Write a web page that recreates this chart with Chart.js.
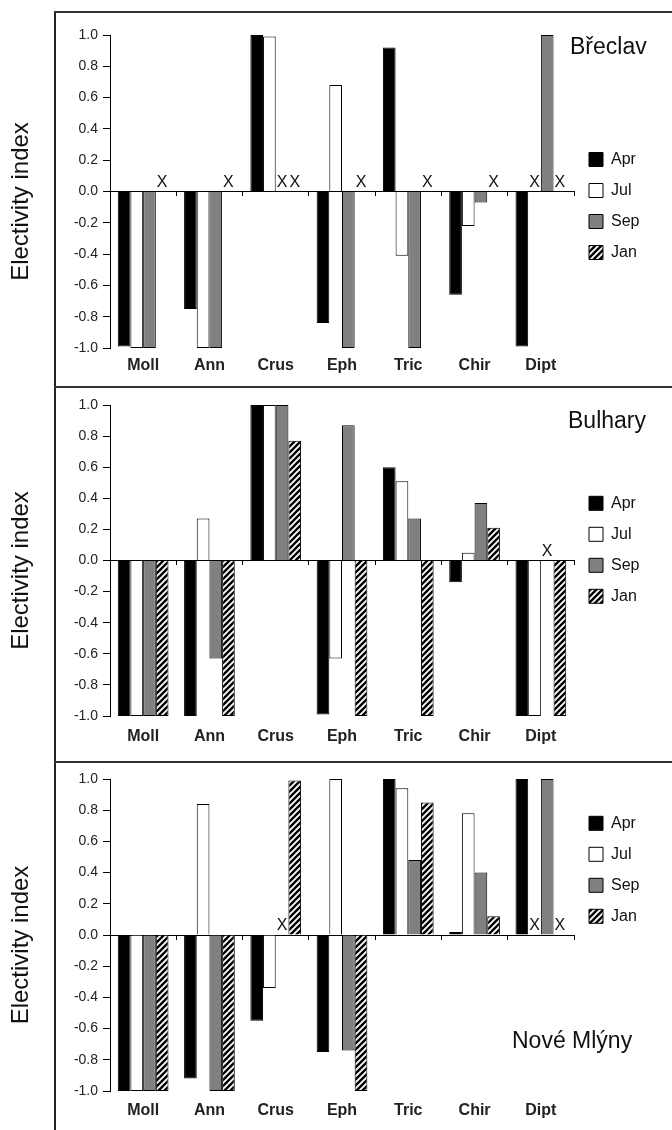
<!DOCTYPE html>
<html>
<head>
<meta charset="utf-8">
<script src="https://cdn.jsdelivr.net/npm/chart.js@4.4.1/dist/chart.umd.min.js"></script>
<style>
  html, body { margin: 0; padding: 0; background: #fff; }
  #page { position: relative; width: 672px; height: 1130px; overflow: hidden; font-family: 'Liberation Sans', Arial, sans-serif; }
  canvas { position: absolute; left: 0; }
  .hline { position: absolute; left: 54px; right: 0; height: 2px; background: #333; }
  .vline { position: absolute; left: 54px; top: 11px; bottom: 0; width: 1.5px; background: #222; }
  .site { position: absolute; font-size: 23px; line-height: 23px; color: #111; white-space: nowrap; }
</style>
</head>
<body>
<div id="page">
  <div class="vline"></div>
  <div class="hline" style="top:11px"></div>
  <div class="hline" style="top:386px"></div>
  <div class="hline" style="top:761px"></div>
  <canvas id="c1" width="672" height="373" style="top:13px"></canvas>
  <canvas id="c2" width="672" height="373" style="top:388px"></canvas>
  <canvas id="c3" width="672" height="367" style="top:763px"></canvas>
  <div class="site" style="left:570px; top:35px">Břeclav</div>
  <div class="site" style="left:568px; top:409px">Bulhary</div>
  <div class="site" style="left:512px; top:1029px">Nové Mlýny</div>
</div>
<script>
const categories = ['Moll', 'Ann', 'Crus', 'Eph', 'Tric', 'Chir', 'Dipt'];
const months = ['Apr', 'Jul', 'Sep', 'Jan'];
const yTicks = [-1.0, -0.8, -0.6, -0.4, -0.2, 0.0, 0.2, 0.4, 0.6, 0.8, 1.0];

const breclavApr = [-0.99, -0.75, 1.0, -0.84, 0.92, -0.66, -0.99];
const breclavJul = [-1.0, -1.0, 0.99, 0.68, -0.41, -0.22, null];
const breclavSep = [-1.0, -1.0, null, -1.0, -1.0, -0.07, 1.0];
const breclavJan = [null, null, null, null, null, null, null];

const bulharyApr = [-1.0, -1.0, 1.0, -0.99, 0.6, -0.14, -1.0];
const bulharyJul = [-1.0, 0.27, 1.0, -0.63, 0.51, 0.05, -1.0];
const bulharySep = [-1.0, -0.63, 1.0, 0.87, 0.27, 0.37, null];
const bulharyJan = [-1.0, -1.0, 0.77, -1.0, -1.0, 0.21, -1.0];

const mlynyApr = [-1.0, -0.92, -0.55, -0.75, 1.0, 0.02, 1.0];
const mlynyJul = [-1.0, 0.84, -0.34, 1.0, 0.94, 0.78, null];
const mlynySep = [-1.0, -1.0, null, -0.74, 0.48, 0.40, 1.0];
const mlynyJan = [-1.0, -1.0, 0.99, -1.0, 0.85, 0.12, null];

const FONT = "'Liberation Sans', Arial, sans-serif";
const PLOT_RIGHT = 574;
Chart.defaults.font.family = FONT;
Chart.defaults.color = '#111';

function makeHatch(ctx) {
    const tile = document.createElement('canvas');
    tile.width = 6; tile.height = 6;
    const g = tile.getContext('2d');
    g.fillStyle = '#fff';
    g.fillRect(0, 0, 6, 6);
    g.strokeStyle = '#000';
    g.lineWidth = 2.4;
    g.beginPath();
    g.moveTo(-1, 7); g.lineTo(7, -1);
    g.moveTo(-1, 1); g.lineTo(1, -1);
    g.moveTo(5, 7); g.lineTo(7, 5);
    g.stroke();
    return ctx.createPattern(tile, 'repeat');
}

// X on the zero line where a month has no value
const missingMarks = {
    id: 'missingMarks',
    afterDatasetsDraw(chart) {
        const ctx = chart.ctx;
        const zeroY = chart.scales.y.getPixelForValue(0);
        ctx.save();
        ctx.font = '16px ' + FONT;
        ctx.fillStyle = '#111';
        ctx.textAlign = 'center';
        ctx.textBaseline = 'alphabetic';
        chart.data.datasets.forEach((ds, d) => {
            const meta = chart.getDatasetMeta(d);
            ds.data.forEach((v, i) => {
                if (v === null) ctx.fillText('X', meta.data[i].x, zeroY - 5);
            });
        });
        ctx.restore();
    }
};

function buildPanel(id, apr, jul, sep, jan, p) {
    const ctx = document.getElementById(id).getContext('2d');
    const fills = ['#000', '#fff', '#808080', makeHatch(ctx)];
    const series = [apr, jul, sep, jan];
    const chart = new Chart(ctx, {
        type: 'bar',
        data: {
            labels: categories,
            datasets: months.map((m, k) => ({
                label: m,
                data: series[k],
                backgroundColor: fills[k],
                borderColor: '#000',
                borderWidth: 1,
                categoryPercentage: 0.765,
                barPercentage: 1.0
            }))
        },
        options: {
            responsive: false,
            animation: false,
            layout: { padding: { top: p.top, right: 20, left: 0, bottom: 0 } },
            plugins: {
                tooltip: { enabled: false },
                legend: {
                    position: 'right',
                    align: 'start',
                    fullSize: false,
                    title: { display: true, text: '', font: { size: 1, lineHeight: 1 }, padding: { top: p.legendTop, bottom: 0 } },
                    labels: { boxWidth: 14, boxHeight: 14, padding: 15, color: '#111', font: { size: 16 } }
                }
            },
            scales: {
                x: {
                    position: 'bottom',
                    offset: true,
                    grid: { display: false, drawTicks: false },
                    border: { display: false },
                    ticks: { color: '#222', padding: p.labelPad, autoSkip: false, maxRotation: 0, font: { size: 16, weight: 'bold' } },
                    afterFit: (s) => { s.height = p.xHeight; }
                },
                xz: {
                    type: 'category',
                    position: { y: 0 },
                    offset: true,
                    grid: { offset: true, drawOnChartArea: false, drawTicks: true, tickLength: 4, color: '#000' },
                    border: { display: true, color: '#000', width: 1 },
                    ticks: { display: false }
                },
                y: {
                    min: -1,
                    max: 1,
                    afterBuildTicks: (s) => { s.ticks = yTicks.map(v => ({ value: v })); },
                    grid: { drawOnChartArea: false, drawTicks: true, tickLength: 7, color: '#000' },
                    border: { display: true, color: '#000', width: 1 },
                    ticks: {
                        padding: 5,
                        color: '#222',
                        font: { size: 14 },
                        callback: (v) => (Math.abs(v) < 1e-9 ? 0 : v).toFixed(1)
                    },
                    // trailing spaces nudge the rotated title a little lower, as in the figure
                    title: { display: true, text: 'Electivity index\u00a0\u00a0\u00a0', color: '#111', font: { size: 24 }, padding: { top: 7, bottom: 0 } },
                    afterFit: (s) => { s.width = 110; }
                }
            }
        },
        plugins: [missingMarks]
    });
    // legend width depends on the font; shift padding so the plot ends at the same x in every panel
    const dx = PLOT_RIGHT - chart.chartArea.right;
    if (Math.abs(dx) > 0.2) {
        chart.options.layout.padding.right -= dx;
        chart.update();
    }
    return chart;
}

buildPanel('c1', breclavApr, breclavJul, breclavSep, breclavJan, { top: 22, xHeight: 38, labelPad: 8, legendTop: 100.5 });
buildPanel('c2', bulharyApr, bulharyJul, bulharySep, bulharyJan, { top: 17, xHeight: 45, labelPad: 11, legendTop: 74.3 });
buildPanel('c3', mlynyApr, mlynyJul, mlynySep, mlynyJan, { top: 16, xHeight: 39, labelPad: 9.5, legendTop: 20.3 });
</script>
</body>
</html>
